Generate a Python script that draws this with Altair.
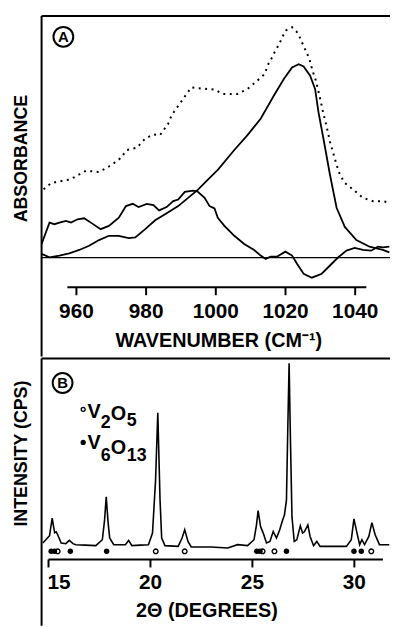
import altair as alt
import pandas as pd

FONT = "Liberation Sans"

# ---------------- (A) FTIR absorbance spectra ----------------
# bumpy spectrum (maximum near 994, dips negative near 1027)
diff_wn = [950.0, 952.27, 953.69, 955.11, 957.02, 958.44, 960.31, 962.22, 964.57, 966.96,
           969.32, 972.16, 974.23, 976.14, 977.84, 980.2, 982.1, 983.72, 985.88, 987.78,
           989.2, 991.11, 993.47, 994.69, 996.79, 998.21, 999.63, 1000.57, 1002.47, 1005.31,
           1008.15, 1011.0, 1012.87, 1014.29, 1015.71, 1017.61, 1019.97, 1021.88, 1023.3, 1025.2,
           1027.56, 1030.4, 1032.76, 1035.14, 1037.5, 1039.86, 1042.24, 1044.6, 1046.5, 1047.93,
           1049.8]
diff_abs = [0.137, 0.353, 0.337, 0.353, 0.37, 0.353, 0.387, 0.397, 0.343, 0.287,
            0.32, 0.403, 0.52, 0.543, 0.51, 0.543, 0.53, 0.477, 0.51, 0.57,
            0.587, 0.663, 0.677, 0.67, 0.603, 0.52, 0.497, 0.403, 0.32, 0.22,
            0.137, 0.077, 0.02, -0.013, 0.01, 0.01, 0.06, 0.02, -0.063, -0.163,
            -0.203, -0.163, -0.08, 0.003, 0.07, 0.097, 0.077, 0.07, 0.11, 0.103,
            0.11]

# smooth spectrum with its band at 1024
band_wn = [950.0, 952.27, 955.11, 957.95, 960.8, 963.64, 966.48, 969.32, 972.16, 975.0,
           976.9, 979.74, 982.59, 985.43, 989.2, 992.05, 994.89, 997.73, 1000.57, 1005.31,
           1009.09, 1012.87, 1016.68, 1019.52, 1021.88, 1023.78, 1025.2, 1027.07, 1028.49, 1029.46,
           1030.88, 1032.76, 1034.66, 1037.02, 1040.34, 1044.12, 1047.93, 1049.8]
band_abs = [0.037, 0.003, 0.02, 0.043, 0.077, 0.12, 0.177, 0.22, 0.22, 0.197,
            0.203, 0.287, 0.377, 0.437, 0.52, 0.603, 0.687, 0.787, 0.887, 1.087,
            1.237, 1.403, 1.637, 1.803, 1.92, 1.953, 1.93, 1.837, 1.703, 1.47,
            1.203, 0.837, 0.503, 0.31, 0.177, 0.11, 0.077, 0.053]

# dotted spectrum
dot_wn = [950.57, 952.76, 955.11, 957.95, 959.86, 962.7, 966.48, 969.32, 972.16, 974.52,
          977.36, 979.74, 982.1, 984.0, 986.36, 987.3, 990.63, 992.98, 994.89, 999.63,
          1001.99, 1006.25, 1009.09, 1011.36, 1014.0, 1014.97, 1015.99, 1016.96, 1018.1, 1019.03,
          1019.97, 1021.88, 1023.1, 1023.95, 1024.91, 1025.85, 1026.79, 1027.76, 1028.78, 1029.91,
          1030.88, 1031.82, 1032.76, 1033.72, 1034.66, 1035.6, 1037.02, 1039.4, 1042.24, 1045.09,
          1047.93, 1049.8]
dot_abs = [0.69, 0.753, 0.77, 0.787, 0.82, 0.877, 0.865, 0.92, 0.987, 1.087,
           1.11, 1.203, 1.243, 1.237, 1.353, 1.437, 1.603, 1.72, 1.71, 1.697,
           1.653, 1.653, 1.703, 1.77, 1.853, 1.947, 2.013, 2.08, 2.153, 2.22,
           2.293, 2.327, 2.287, 2.237, 2.16, 2.087, 2.013, 1.887, 1.78, 1.61,
           1.453, 1.32, 1.17, 1.053, 0.937, 0.837, 0.753, 0.687, 0.603, 0.57,
           0.57, 0.553]

ir_ticks = [960, 980, 1000, 1020, 1040]
ir_axis_span = [957.4, 1043.2]

# ---------------- (B) X-ray diffraction pattern ----------------
xrd_2theta = [14.72, 15.05, 15.18, 15.30, 15.38, 15.45, 15.62, 15.85, 16.02, 16.2,
              16.34, 16.8, 17.32, 17.64, 17.75, 17.83, 17.92, 18.0, 18.2, 18.77,
              18.93, 19.09, 19.5, 19.9, 20.1, 20.25, 20.36, 20.47, 20.55, 20.71,
              21.36, 21.55, 21.68, 21.84, 22.0, 22.98, 23.79, 24.27, 24.76, 25.08,
              25.2, 25.28, 25.4, 25.53, 25.69, 25.86, 26.02, 26.18, 26.34, 26.46,
              26.57, 26.67, 26.73, 26.80, 26.86, 26.94, 27.05, 27.18, 27.35, 27.46,
              27.55, 27.72, 27.83, 28.0, 28.16, 28.32, 29.61, 29.85, 29.98, 30.13,
              30.26, 30.37, 30.5, 30.71, 30.86, 31.02, 31.23, 31.71]
xrd_cps = [16.7, 24, 41.7, 27, 28, 25, 16.7, 16, 19.3, 16,
           15, 14.5, 14, 20, 40, 63.3, 38, 21.7, 15, 15,
           19.3, 14, 14.5, 15, 26.7, 80, 148.3, 60, 21.7, 14,
           13.3, 21.7, 30, 18.3, 12.7, 12.7, 11.7, 15, 14, 20,
           35, 49.3, 33.3, 26.7, 16.7, 18.3, 28.3, 21.7, 30, 38.3,
           45, 60, 126.7, 198.3, 126.7, 43.3, 18.3, 20, 34, 26.7,
           28, 35, 23.3, 14, 18.3, 13.3, 13.3, 20, 41, 26.7,
           15, 20, 15, 23.3, 37.3, 25, 15, 15]

# reflection positions of the two phases
v2o5_2theta = [15.45, 20.26, 21.68, 25.5, 26.08, 30.83]
v6o13_2theta = [15.13, 15.29, 16.07, 17.85, 25.21, 25.37, 26.67, 29.98, 30.34]

xrd_ticks = [15, 20, 25, 30]
xrd_axis_span = [15.0, 31.4]

# ---------------- scales and axis levels (data units) ----------------
WN_DOMAIN = [950, 1050]
ABS_DOMAIN = [-1.0, 2.44]
TT_DOMAIN = [14.66, 31.75]
CPS_DOMAIN = [-67, 203]
W = 352
HA = 344
HB = 270

# panel A: axis line, tick ends, label baseline, title baseline
IR_AXIS, IR_TICK_END, IR_LABEL, IR_TITLE = -0.30, -0.38, -0.613, -0.903
IR_TITLE_AT = 1000.85
ABS_TITLE_AT = (945.74, 1.0)
# panel B
XRD_AXIS, XRD_TICK_END, XRD_LABEL, XRD_TITLE = 0.0, -8.0, -30.0, -58.0
XRD_TITLE_AT = 22.77
CPS_TITLE_AT = (13.93, 107.0)
MARK_ROW = 8.3

sx_a = alt.Scale(domain=WN_DOMAIN, nice=False, zero=False)
sy_a = alt.Scale(domain=ABS_DOMAIN, nice=False, zero=False)
sx_b = alt.Scale(domain=TT_DOMAIN, nice=False, zero=False)
sy_b = alt.Scale(domain=CPS_DOMAIN, nice=False, zero=False)


def XA():
    return alt.X("x:Q", scale=sx_a, axis=None)


def YA():
    return alt.Y("y:Q", scale=sy_a, axis=None)


def XB():
    return alt.X("x:Q", scale=sx_b, axis=None)


def YB():
    return alt.Y("y:Q", scale=sy_b, axis=None)


def frame(x0, x1, y0, y1):
    """Left edge and top edge of a panel box."""
    return pd.DataFrame({"x": [x0, x0], "x2": [x0, x1], "y": [y0, y1], "y2": [y1, y1]})


def curve(xs, ys):
    return pd.DataFrame({"x": xs, "y": ys, "i": list(range(len(xs)))})


def words(xs, ys, texts):
    return pd.DataFrame({"x": xs, "y": ys, "t": texts})


def bold_text(size, **kw):
    return dict(font=FONT, fontWeight="bold", color="black", fontSize=size, **kw)


def x_axis(ticks, span, level, tick_end, label_level, title, title_at, title_level, X, Y,
           first_left=False):
    """Axis line, downward ticks, tick labels and title drawn through the panel scales."""
    line = alt.Chart(curve(span, [level, level])).mark_line(
        color="black", strokeWidth=2.2).encode(x=X(), y=Y(), order="i:Q")
    tick_df = pd.DataFrame({"x": ticks, "y": [level] * len(ticks), "y2": [tick_end] * len(ticks)})
    tick_marks = alt.Chart(tick_df).mark_rule(color="black", strokeWidth=2).encode(
        x=X(), y=Y(), y2="y2:Q")
    texts = [str(v) for v in ticks]
    layers = [line, tick_marks]
    if first_left:
        layers.append(alt.Chart(words(ticks[:1], [label_level], texts[:1])).mark_text(
            **bold_text(21, align="left", baseline="alphabetic", dx=-1)).encode(
            x=X(), y=Y(), text="t:N"))
        rest = slice(1, None)
    else:
        rest = slice(0, None)
    layers.append(alt.Chart(words(ticks[rest], [label_level] * len(ticks[rest]), texts[rest])).mark_text(
        **bold_text(21, align="center", baseline="alphabetic")).encode(x=X(), y=Y(), text="t:N"))
    layers.append(alt.Chart(words([title_at], [title_level], [title])).mark_text(
        **bold_text(20, align="center", baseline="alphabetic")).encode(x=X(), y=Y(), text="t:N"))
    return layers


def side_title(pos, title, X, Y):
    return alt.Chart(words([pos[0]], [pos[1]], [title])).mark_text(
        **bold_text(18, align="center", baseline="alphabetic", angle=270)).encode(
        x=X(), y=Y(), text="t:N")


def tag(pos, letter, X, Y):
    df = words([pos[0]], [pos[1]], [letter])
    ring = alt.Chart(df).mark_point(shape="circle", filled=False, color="black",
                                    size=400, strokeWidth=2, opacity=1).encode(x=X(), y=Y())
    glyph = alt.Chart(df).mark_text(**bold_text(15, baseline="middle", dy=0.5)).encode(
        x=X(), y=Y(), text="t:N")
    return [ring, glyph]


# ---------------- panel A ----------------
zero_a = alt.Chart(pd.DataFrame({"x": [WN_DOMAIN[0]], "x2": [WN_DOMAIN[1]], "y": [0.0]})).mark_rule(
    color="black", strokeWidth=1.3).encode(x=XA(), x2="x2:Q", y=YA())

frame_a = alt.Chart(frame(WN_DOMAIN[0], WN_DOMAIN[1], ABS_DOMAIN[0], ABS_DOMAIN[1])).mark_rule(
    color="black", strokeWidth=2).encode(x=XA(), x2="x2:Q", y=YA(), y2="y2:Q")


def spectrum(xs, ys, **kw):
    return alt.Chart(curve(xs, ys)).mark_line(color="black", **kw).encode(
        x=XA(), y=YA(), order="i:Q")


line_diff = spectrum(diff_wn, diff_abs, strokeWidth=1.8)
line_band = spectrum(band_wn, band_abs, strokeWidth=1.8)
line_dot = spectrum(dot_wn, dot_abs, strokeWidth=2, strokeDash=[2, 4.5])

panel_a = alt.layer(
    frame_a, zero_a, line_dot, line_band, line_diff,
    *x_axis(ir_ticks, ir_axis_span, IR_AXIS, IR_TICK_END, IR_LABEL,
            "WAVENUMBER (CM⁻¹)", IR_TITLE_AT, IR_TITLE, XA, YA),
    side_title(ABS_TITLE_AT, "ABSORBANCE", XA, YA),
    *tag((956.25, 2.23), "A", XA, YA),
).properties(width=W, height=HA)

# ---------------- panel B ----------------
frame_b = alt.Chart(frame(TT_DOMAIN[0], TT_DOMAIN[1], CPS_DOMAIN[0], CPS_DOMAIN[1])).mark_rule(
    color="black", strokeWidth=2).encode(x=XB(), x2="x2:Q", y=YB(), y2="y2:Q")

pattern = alt.Chart(curve(xrd_2theta, xrd_cps)).mark_line(color="black", strokeWidth=1.6).encode(
    x=XB(), y=YB(), order="i:Q")

open_marks = alt.Chart(pd.DataFrame({"x": v2o5_2theta, "y": [MARK_ROW] * len(v2o5_2theta)})).mark_point(
    shape="circle", filled=False, color="black", size=22, strokeWidth=1.4, opacity=1).encode(
    x=XB(), y=YB())
solid_marks = alt.Chart(pd.DataFrame({"x": v6o13_2theta, "y": [MARK_ROW] * len(v6o13_2theta)})).mark_point(
    shape="circle", filled=True, color="black", size=30, opacity=1).encode(x=XB(), y=YB())

# key: phase symbol followed by its formula, subscripts set lower and smaller
key_open = alt.Chart(pd.DataFrame({"x": [16.70], "y": [151.7]})).mark_point(
    shape="circle", filled=False, color="black", size=16, strokeWidth=1.3, opacity=1).encode(
    x=XB(), y=YB())
key_solid = alt.Chart(pd.DataFrame({"x": [16.70], "y": [118.3]})).mark_point(
    shape="circle", filled=True, color="black", size=28, opacity=1).encode(x=XB(), y=YB())

formula = pd.DataFrame({
    "t": ["V", "2", "O", "5", "V", "6", "O", "13"],
    "x": [16.91, 17.56, 18.05, 18.84, 16.91, 17.56, 18.05, 18.84],
    "y": [143.3, 133.3, 141.0, 135.0, 111.7, 100.0, 107.0, 100.0],
    "fs": [20, 18, 20, 18, 20, 18, 20, 18],
})
key_text = alt.Chart(formula).mark_text(font=FONT, fontWeight="bold", color="black",
                                        align="left", baseline="alphabetic").encode(
    x=XB(), y=YB(), text="t:N", size=alt.Size("fs:Q", scale=None, legend=None))

panel_b = alt.layer(
    frame_b, pattern, open_marks, solid_marks, key_open, key_solid, key_text,
    *x_axis(xrd_ticks, xrd_axis_span, XRD_AXIS, XRD_TICK_END, XRD_LABEL,
            "2Θ (DEGREES)", XRD_TITLE_AT, XRD_TITLE, XB, YB, first_left=True),
    side_title(CPS_TITLE_AT, "INTENSITY (CPS)", XB, YB),
    *tag((15.69, 178.3), "B", XB, YB),
).properties(width=W, height=HB)

chart = alt.vconcat(panel_a, panel_b, spacing=0).properties(
    padding={"left": 12, "top": 12, "right": 0, "bottom": 0},
    background="white",
).configure_view(stroke=None)

chart.save("out.html", embed_options={"renderer": "svg", "actions": False})
